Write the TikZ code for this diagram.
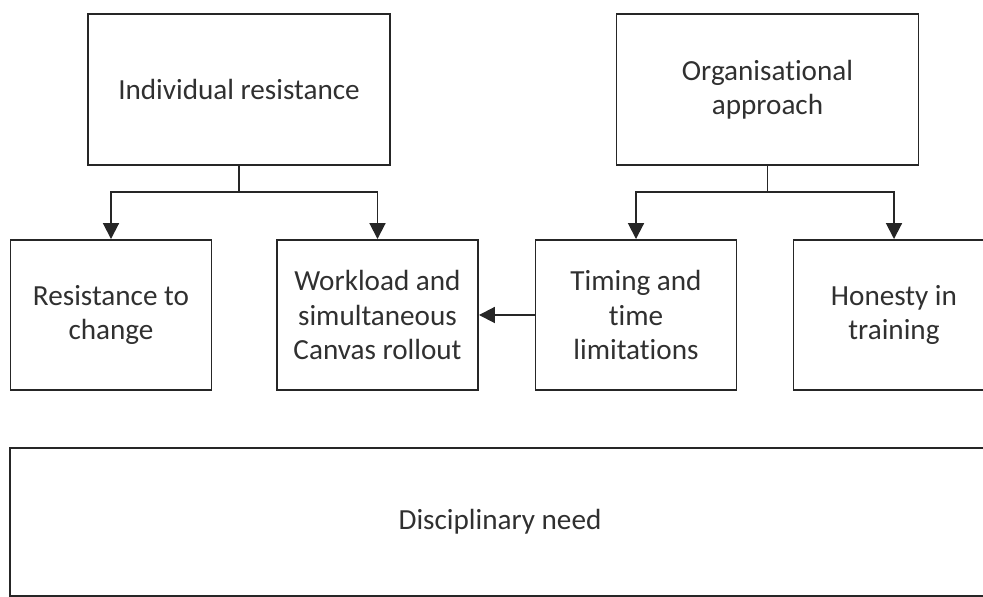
\documentclass[tikz,border=0pt]{standalone}
\usepackage{fontspec}
\setmainfont{Carlito}[Ligatures=NoCommon]
\usepackage{tikz}
\usetikzlibrary{positioning,arrows.meta}
\definecolor{boxline}{HTML}{262626}
\definecolor{boxtext}{HTML}{303030}

\begin{document}
\begin{tikzpicture}[
  x=0.02cm, y=-0.02cm,
  topBox/.style ={draw=boxline, line width=1.1pt, minimum width=302*0.02cm, minimum height=151*0.02cm,
                  align=center, text=boxtext, font=\fontsize{16.6}{19.4}\selectfont},
  subBox/.style ={topBox, minimum width=201*0.02cm, minimum height=150*0.02cm},
  wideBox/.style={topBox, minimum width=980*0.02cm, minimum height=148*0.02cm},
  conn/.style   ={draw=boxline, line width=1.1pt},
  arr/.style    ={conn, -{Triangle[width=9pt,length=9pt]}},
]
% page frame: the right-hand boxes run off the edge
\useasboundingbox (0,0) rectangle (983,597);
\clip (0,0) rectangle (983,597);
% top level
\node[topBox] (indiv) at (239,89.5) {Individual resistance};
\node[topBox] (orga)  at (767.5,89.5) {Organisational\\approach};
% second level
\node[subBox] (resist)  at (111,315)   {Resistance to\\change};
\node[subBox] (workld)  at (377.5,315) {Workload and\\simultaneous\\Canvas rollout};
\node[subBox] (timing)  at (636,315)   {Timing and\\time\\limitations};
\node[subBox] (honest)  at (894,315)   {Honesty in\\training};
% bottom band
\node[wideBox] (discip) at (500,522) {Disciplinary need};
% branch points
\coordinate (indivJ) at (239,192);
\coordinate (orgaJ)  at (767.5,192);
\draw[conn] (indiv.south) -- (indivJ);
\draw[arr]  (indivJ) -| (resist.north);
\draw[arr]  (indivJ) -| (workld.north);
\draw[conn] (orga.south) -- (orgaJ);
\draw[arr]  (orgaJ) -| (timing.north);
\draw[arr]  (orgaJ) -| (honest.north);
\draw[arr]  (timing.west) -- (workld.east);
\end{tikzpicture}
\end{document}
